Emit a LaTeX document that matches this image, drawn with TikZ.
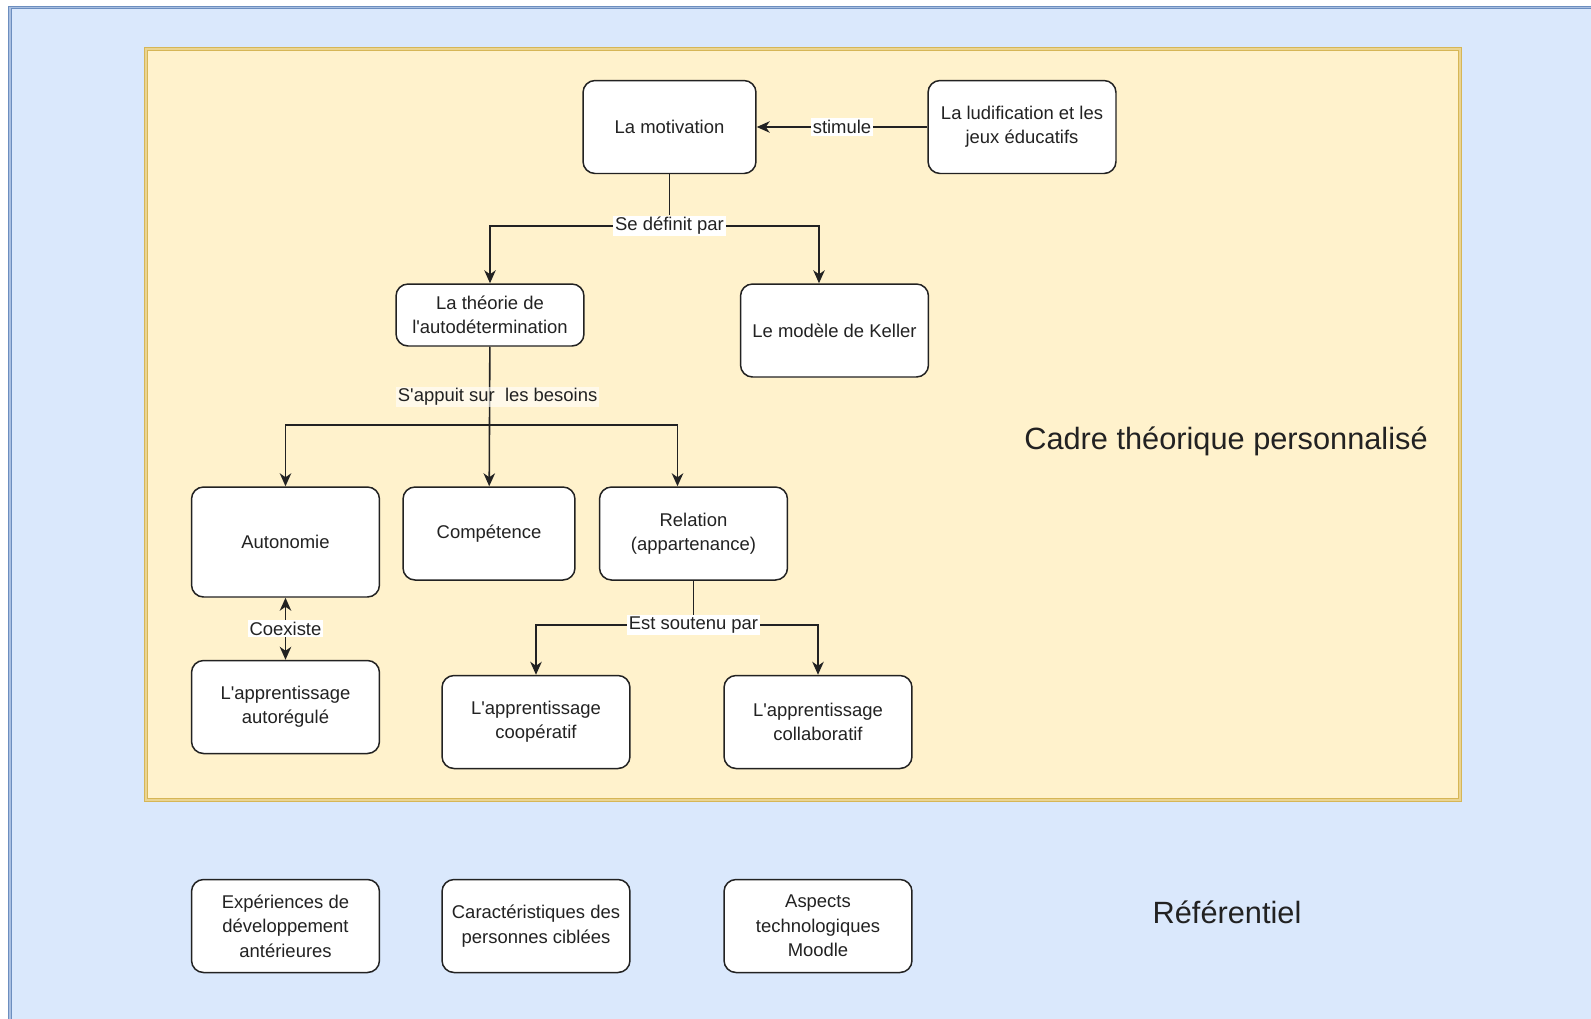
\documentclass[tikz,border=0pt]{standalone}
\usepackage{fontspec}
\setmainfont{Liberation Sans}
\usepackage{xcolor}
\usepackage{tikz}
\usetikzlibrary{positioning,arrows.meta,calc}
\definecolor{refblue}{HTML}{DAE8FC}
\definecolor{refborder}{HTML}{6C8EBF}
\definecolor{cadrefill}{HTML}{FFF2CC}
\definecolor{cadreborder}{HTML}{D6B656}
\definecolor{ink}{HTML}{222222}
\newcommand{\apos}{\textquotesingle}
\tikzset{
  concept/.style={rectangle, rounded corners=0.24cm, draw=ink, fill=white, line width=0.85pt,
                  minimum width=3.76cm, minimum height=1.86cm, align=center, inner sep=2pt,
                  font=\fontsize{10.5}{13.9}\selectfont, text=ink},
  link/.style={-{Stealth[length=2.6mm, width=2.3mm, inset=0.8mm]}, line width=0.9pt, ink},
  bilink/.style={{Stealth[length=2.6mm, width=2.3mm, inset=0.8mm]}-{Stealth[length=2.6mm, width=2.3mm, inset=0.8mm]}, line width=0.9pt, ink},
  plainlink/.style={line width=0.9pt, ink},
  linklbl/.style={fill=white, inner sep=1pt, font=\fontsize{10.5}{13.9}\selectfont, text=ink},
  frametitle/.style={font=\fontsize{17.5}{21}\selectfont, text=ink},
  zone/.style={line width=0.5pt, double distance=1pt}
}

\begin{document}
\begin{tikzpicture}[x=0.02cm, y=-0.02cm]
\useasboundingbox (0,0) rectangle (1591,1018);
\clip (0,0) rectangle (1591,1018);
\fill[white] (0,0) rectangle (1591,1018);
% the two zones
\draw[zone, fill=refblue, draw=refborder, double=refblue!55!refborder] (10,7.5) rectangle (1640,1060);
\draw[zone, fill=cadrefill, draw=cadreborder, double=cadrefill!50!cadreborder] (146,49) rectangle (1460,800);
\node[frametitle] (cadre) at (1226,441) {Cadre théorique personnalisé};
\node[frametitle] (referentiel) at (1227,912) {Référentiel};
% concepts
\node[concept, minimum width=3.46cm] (motiv) at (669.5,127) {La motivation};
\node[concept] (ludif) at (1022,127) {La ludification et les\\jeux éducatifs};
\node[concept, minimum height=1.24cm] (theorie) at (490,315) {La théorie de\\l\apos autodétermination};
\node[concept] (keller) at (834.5,330.5) {Le modèle de Keller};
\node[concept, minimum height=2.2cm] (autonomie) at (285.5,542) {Autonomie};
\node[concept, minimum width=3.44cm] (competence) at (489,533.5) {Compétence};
\node[concept] (relation) at (693.5,533.5) {Relation\\(appartenance)};
\node[concept] (autoreg) at (285.5,707) {L\apos apprentissage\\autorégulé};
\node[concept] (coop) at (536,722) {L\apos apprentissage\\coopératif};
\node[concept] (collab) at (818,722) {L\apos apprentissage\\collaboratif};
\node[concept] (exper) at (285.5,926) {Expériences de\\développement\\antérieures};
\node[concept] (caract) at (536,926) {Caractéristiques des\\personnes ciblées};
\node[concept] (aspects) at (818,926) {Aspects\\technologiques\\Moodle};
% links
\draw[link] (ludif) -- node[linklbl] (stimule) {stimule} (motiv);
\node[linklbl] (defpar) at (669.5,226) {Se définit par};
\coordinate (kellerin) at ($(keller.north)+(-15.5,0)$);
\draw[plainlink] (motiv) -- (defpar);
\draw[link] (defpar) -| (theorie);
\draw[link] (defpar) -| (kellerin);
\draw[link] (theorie) -- node[linklbl, pos=0.36, xshift=0.16cm, fill opacity=0.6, text opacity=1] (appui) {S\apos appuit sur\ \ les besoins} (competence);
\coordinate (besoins) at (490,425);
\coordinate (relin) at ($(relation.north)+(-16,0)$);
\draw[link] (besoins) -| (autonomie);
\draw[link] (besoins) -| (relin);
\draw[bilink] (autonomie) -- node[linklbl] (coexiste) {Coexiste} (autoreg);
\node[linklbl] (soutenu) at (693.5,625) {Est soutenu par};
\draw[plainlink] (relation) -- (soutenu);
\draw[link] (soutenu) -| (coop);
\draw[link] (soutenu) -| (collab);
\end{tikzpicture}
\end{document}
